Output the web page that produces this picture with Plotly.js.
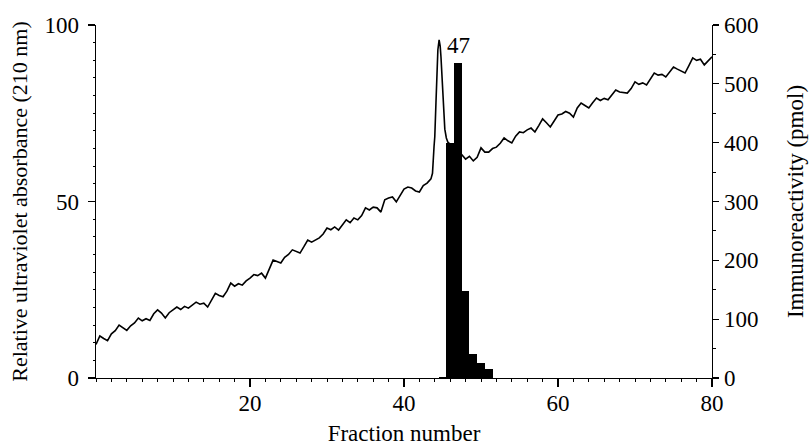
<!DOCTYPE html>
<html>
<head>
<meta charset="utf-8">
<script src="https://cdn.plot.ly/plotly-3.0.1.min.js"></script>
<style>html,body{margin:0;padding:0;background:#fff;}#chart{width:811px;height:446px;}</style>
</head>
<body>
<div id="chart"></div>
<script>
// UV absorbance trace (left axis, %)
const uvX = [0,0.5,1,1.5,2,2.5,3,3.5,4,4.5,5,5.5,6,6.5,7,7.5,8,8.5,9,9.5,
10,10.5,11,11.5,12,12.5,13,13.5,14,14.5,15,15.5,16,16.5,17,17.5,18,18.5,19,19.5,
20,20.5,21,21.5,22,22.5,23,23.5,24,24.5,25,25.5,26,26.5,27,27.5,28,28.5,29,29.5,
30,30.5,31,31.5,32,32.5,33,33.5,34,34.5,35,35.5,36,36.5,37,37.5,38,38.5,39,39.5,
40,40.5,41,41.5,42,42.5,43,43.5,43.7,43.9,44,44.15,44.26,44.4,44.56,44.7,44.8,45,45.15,45.3,45.5,45.7,
46,46.5,47,47.5,48,48.5,49,49.5,50,50.5,51,51.5,52,52.5,53,53.5,54,54.5,55,55.5,
56,56.5,57,57.5,58,58.5,59,59.5,60,60.5,61,61.5,62,62.5,63,63.5,64,64.5,65,65.5,
66,66.5,67,67.5,68,68.5,69,69.5,70,70.5,71,71.5,72,72.5,73,73.5,74,74.5,75,75.5,
76,76.5,77,77.5,78,78.5,79,79.5,80];
const uvY = [9.5,11.9,11.2,10.6,12.5,13.4,15.0,14.2,13.5,14.8,15.6,17.0,16.2,16.8,16.3,18.2,19.3,18.4,17.0,18.5,
19.2,20.1,19.4,20.3,19.8,20.6,21.5,20.9,21.2,20.1,22.0,24.0,23.4,23.0,24.6,26.9,26.0,26.7,26.3,27.5,
28.3,29.3,29.0,29.7,28.3,31.0,33.4,33.0,32.6,34.2,35.0,36.3,35.8,35.4,37.2,39.1,38.5,39.2,39.7,40.8,
42.5,42.0,42.8,41.9,43.2,44.8,44.0,45.3,44.8,46.0,48.2,47.6,48.4,48.2,47.0,50.5,51.0,51.3,49.9,51.8,
53.5,54.1,53.8,53.0,52.7,54.5,55.2,56.4,58.0,65.5,68.4,78.0,87.3,93.0,95.8,94.0,91.0,82.5,75.0,70.5,68.0,66.8,
66.2,65.6,64.5,63.2,62.0,62.8,61.5,62.5,65.2,64.0,64.0,65.0,65.4,66.5,68.0,67.2,66.6,68.5,69.7,69.5,
70.3,70.8,69.7,71.5,73.4,72.3,71.1,72.8,74.5,74.8,75.5,75.0,73.9,76.5,77.9,77.2,76.5,78.0,79.3,78.6,
79.2,78.8,80.2,81.6,81.0,80.9,80.7,82.0,83.9,83.2,83.6,83.0,84.6,86.4,85.8,86.0,85.3,86.8,88.1,87.5,
87.0,86.4,88.5,90.7,90.0,90.3,88.7,90.0,91.0];

// Immunoreactivity per fraction (right axis, pmol)
const fractions = [45,46,47,48,49,50,51];
const immuno = [2,400,536,148,40,25,15];

const xTicks = [20,40,60,80];
const yTicks = [0,50,100];
const y2Ticks = [0,100,200,300,400,500,600];
const peakLabel = "47";

const FONT = "Liberation Serif, Times New Roman, serif";

const traces = [
  {x: uvX, y: uvY, type: 'scatter', mode: 'lines', yaxis: 'y',
   line: {color: '#000', width: 1.6}, hoverinfo: 'skip'},
  {x: fractions, y: immuno, type: 'bar', yaxis: 'y2', width: 1,
   marker: {color: '#000', line: {width: 0}}, hoverinfo: 'skip'}
];

const layout = {
  width: 811, height: 446,
  margin: {l: 96, r: 99, t: 25, b: 68},
  paper_bgcolor: '#fff', plot_bgcolor: '#fff',
  showlegend: false,
  bargap: 0,
  font: {family: FONT, size: 23, color: '#000'},
  xaxis: {
    range: [0, 80], tickvals: xTicks, ticktext: xTicks.map(String),
    showline: true, linecolor: '#000', linewidth: 1.3,
    ticks: 'outside', ticklen: 8, tickwidth: 1.3, tickcolor: '#000',
    ticklabelstandoff: -4,
    minor: {dtick: 2, ticks: 'outside', ticklen: 3, tickcolor: '#000', tickwidth: 1},
    showgrid: false, zeroline: false, automargin: false,
    title: {text: 'Fraction number', font: {family: FONT, size: 23}, standoff: 17}
  },
  yaxis: {
    range: [0, 100], tickvals: yTicks, ticktext: yTicks.map(String),
    showline: true, linecolor: '#000', linewidth: 1.3,
    ticks: 'outside', ticklen: 7, tickwidth: 1.3, tickcolor: '#000',
    ticklabelstandoff: 4,
    minor: {dtick: 5, ticks: 'outside', ticklen: 2, tickcolor: '#000', tickwidth: 1},
    showgrid: false, zeroline: false, automargin: false,
    title: {text: 'Relative ultraviolet absorbance (210 nm)', font: {family: FONT, size: 22}, standoff: 11}
  },
  yaxis2: {
    range: [0, 600], overlaying: 'y', side: 'right', anchor: 'x',
    tickvals: y2Ticks, ticktext: y2Ticks.map(String),
    showline: true, linecolor: '#000', linewidth: 1.3,
    ticks: 'outside', ticklen: 6, tickwidth: 1.3, tickcolor: '#000',
    minor: {dtick: 50, ticks: 'outside', ticklen: 3, tickcolor: '#000', tickwidth: 1},
    showgrid: false, zeroline: false, automargin: false,
    title: {text: 'Immunoreactivity (pmol)', font: {family: FONT, size: 23}, standoff: 29}
  },
  annotations: [
    {x: fractions[2], y: 566, xref: 'x', yref: 'y2', text: peakLabel, showarrow: false,
     font: {family: FONT, size: 23, color: '#000'}, xanchor: 'center', yanchor: 'middle', xshift: 1}
  ]
};

Plotly.newPlot('chart', traces, layout, {displayModeBar: false, staticPlot: true});
</script>
</body>
</html>
